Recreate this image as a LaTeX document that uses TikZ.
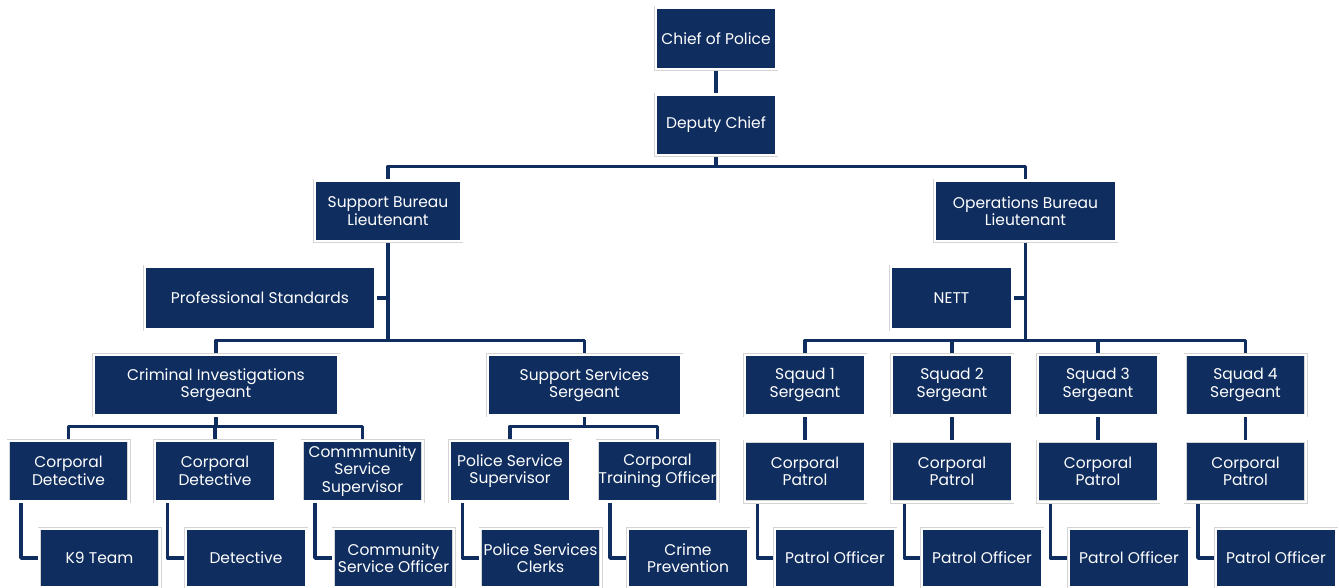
\documentclass[tikz,border=0pt]{standalone}
\usepackage{fontspec}
\setmainfont{Poppins}
\usetikzlibrary{backgrounds}
\definecolor{navy}{HTML}{0F2D5E}
\definecolor{edgegray}{HTML}{D4D4D4}
\tikzset{
  orgbox/.style={rectangle, fill=navy, draw=edgegray, double=white, double distance=2.4pt, line width=0.5pt,
    text=white, align=center, inner sep=0pt, font=\fontsize{15.5}{17.5}\selectfont,
    minimum width=#1-3.4pt},
  orgbox/.default=124pt,
  ht/.style={minimum height=#1-3.4pt},
  conn/.style={draw=navy, line width=3.6pt, line join=round}
}
\begin{document}
\begin{tikzpicture}[x=1pt,y=-1pt]
\useasboundingbox (0,0) rectangle (1339,588);
% level 1-2
\node[orgbox, ht=65pt] (chief) at (716,38.5) {Chief of Police};
\node[orgbox, ht=64pt] (deputy) at (716,125) {Deputy Chief};
% bureaus
\node[orgbox=150pt, ht=64pt] (sbl) at (388,211) {Support Bureau\\Lieutenant};
\node[orgbox=185pt, ht=64pt] (obl) at (1025.5,211) {Operations Bureau\\Lieutenant};
\node[orgbox=234pt, ht=66pt] (prof) at (260,298) {Professional Standards};
\node[orgbox=125pt, ht=66pt] (nett) at (951.5,298) {NETT};
% sergeants
\node[orgbox=248pt, ht=64pt] (cis) at (216,385) {Criminal Investigations\\Sergeant};
\node[orgbox=197pt, ht=64pt] (sss) at (584.5,385) {Support Services\\Sergeant};
\node[orgbox, ht=64pt] (sq1) at (805,385) {Sqaud 1\\Sergeant};
\node[orgbox, ht=64pt] (sq2) at (952,385) {Squad 2\\Sergeant};
\node[orgbox, ht=64pt] (sq3) at (1098,385) {Squad 3\\Sergeant};
\node[orgbox, ht=64pt] (sq4) at (1245.5,385) {Squad 4\\Sergeant};
% corporals
\node[orgbox, ht=64pt] (cd1) at (68.5,471) {Corporal\\Detective};
\node[orgbox, ht=64pt] (cd2) at (215,471) {Corporal\\Detective};
\node[orgbox, ht=64pt] (css) at (362.5,471) {Commmunity\\Service\\Supervisor};
\node[orgbox, ht=64pt] (pss) at (510,471) {Police Service\\Supervisor};
\node[orgbox, ht=64pt] (cto) at (657.5,471) {Corporal\\Training Officer};
\node[orgbox, ht=64pt] (cp1) at (805,471.5) {Corporal\\Patrol};
\node[orgbox, ht=64pt] (cp2) at (952,471.5) {Corporal\\Patrol};
\node[orgbox, ht=64pt] (cp3) at (1098,471.5) {Corporal\\Patrol};
\node[orgbox, ht=64pt] (cp4) at (1245.5,471.5) {Corporal\\Patrol};
% bottom row
\node[orgbox, ht=62pt] (k9) at (99.5,558) {K9 Team};
\node[orgbox, ht=62pt] (det) at (246,558) {Detective};
\node[orgbox, ht=62pt] (cso) at (393.5,558) {Community\\Service Officer};
\node[orgbox, ht=62pt] (psc) at (540.5,558) {Police Services\\Clerks};
\node[orgbox, ht=62pt] (crp) at (688,558) {Crime\\Prevention};
\node[orgbox, ht=62pt] (po1) at (835,558) {Patrol Officer};
\node[orgbox, ht=62pt] (po2) at (982,558) {Patrol Officer};
\node[orgbox, ht=62pt] (po3) at (1129,558) {Patrol Officer};
\node[orgbox, ht=62pt] (po4) at (1276,558) {Patrol Officer};
\begin{pgfonlayer}{background}
\draw[conn] (chief.south) -- (deputy.north);
\draw[conn] (deputy.south) -- ++(0,11) -| (sbl.north);
\draw[conn] (deputy.south) -- ++(0,11) -| (obl.north);
\draw[conn] (sbl.south) -- ++(0,99) -| (cis.north);
\draw[conn] (sbl.south) -- ++(0,99) -| (sss.north);
\draw[conn] (prof.east) -- (prof.east -| sbl.south);
\draw[conn] (nett.east) -- (nett.east -| obl.south);
\foreach \s in {sq1,sq2,sq3,sq4}{
  \draw[conn] (obl.south) -- ++(0,99) -| (\s.north);
}
\foreach \s/\c in {sq1/cp1,sq2/cp2,sq3/cp3,sq4/cp4}{
  \draw[conn] (\s.south) -- (\c.north);
}
\foreach \s in {cd1,cd2,css}{
  \draw[conn] (cis.south) -- ++(0,11) -| (\s.north);
}
\foreach \s in {pss,cto}{
  \draw[conn] (sss.south) -- ++(0,11) -| (\s.north);
}
\foreach \a/\b in {cd1/k9,cd2/det,css/cso,pss/psc,cto/crp,cp1/po1,cp2/po2,cp3/po3,cp4/po4}{
  \draw[conn] ([xshift=13pt]\a.south west) |- (\b.west);
}
\end{pgfonlayer}
\end{tikzpicture}
\end{document}
